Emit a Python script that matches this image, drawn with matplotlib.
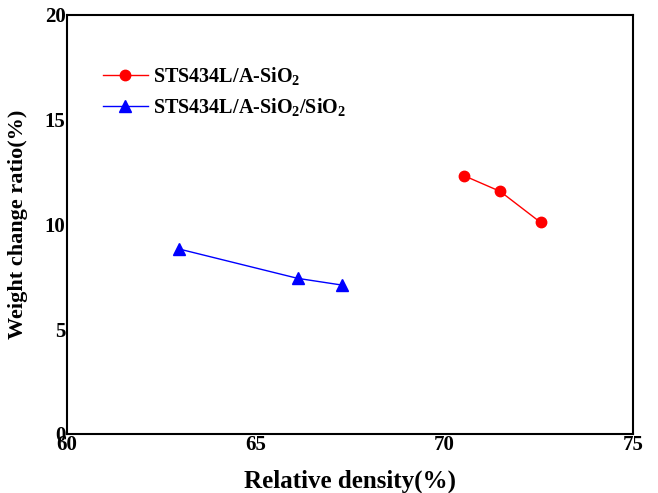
import matplotlib
matplotlib.use('Agg')
import matplotlib.pyplot as plt

plt.rcParams['font.family'] = ['Liberation Serif', 'DejaVu Serif']
plt.rcParams['font.weight'] = 'bold'
plt.rcParams['mathtext.fontset'] = 'custom'
plt.rcParams['mathtext.rm'] = 'Liberation Serif:bold'
plt.rcParams['mathtext.it'] = 'Liberation Serif:bold'
plt.rcParams['mathtext.bf'] = 'Liberation Serif:bold'

# data
dens_a = [70.52, 71.48, 72.55]
wcr_a = [12.33, 11.58, 10.1]
dens_b = [62.97, 66.11, 67.28]
wcr_b = [8.83, 7.43, 7.11]

label_a = r'STS434L/A-SiO$_2$'
label_b = r'STS434L/A-SiO$_2$/SiO$_2$'

fig = plt.figure(figsize=(6.58, 4.93), dpi=100)
ax = fig.add_axes([0.1018, 0.1197, 0.8602, 0.8499])

ax.plot(dens_a, wcr_a, '-', color='red', lw=1, marker='o', ms=7.5, label=label_a)
ax.plot(dens_b, wcr_b, '-', color='blue', lw=1, marker='^', ms=8.5, label=label_b)

ax.set_xlim(60, 75)
ax.set_ylim(0, 20)
ax.set_xticks([60, 65, 70, 75])
ax.set_yticks([0, 5, 10, 15, 20])
ax.tick_params(length=0, labelsize=15, pad=1)
for s in ax.spines.values():
    s.set_linewidth(1.5)

ax.set_xlabel('Relative density(%)', fontsize=18, fontweight='bold', labelpad=10)
ax.set_ylabel('Weight change ratio(%)', fontsize=16, fontweight='bold', labelpad=12)

ax.legend(loc='upper left', bbox_to_anchor=(0.042, 0.909), frameon=False,
          fontsize=14.5, handlelength=2.24, handletextpad=0.25, labelspacing=0.45,
          borderaxespad=0.2)

fig.savefig('out.png', dpi=100)
